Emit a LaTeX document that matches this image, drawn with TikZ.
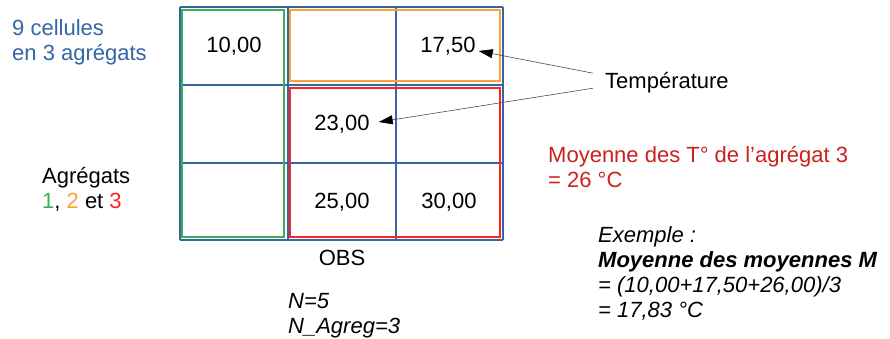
\documentclass[tikz,border=0pt]{standalone}
\usepackage{fontspec}
\setmainfont{Liberation Sans}
\usetikzlibrary{arrows.meta}
\definecolor{gridblue}{RGB}{52,101,164}
\definecolor{agggreen}{RGB}{60,175,85}
\definecolor{aggorange}{RGB}{255,160,50}
\definecolor{aggred}{RGB}{255,35,35}
\definecolor{notered}{RGB}{201,33,30}
\tikzset{
  every node/.style={font=\fontsize{22}{25}\selectfont, inner sep=0pt},
  gridline/.style={draw=gridblue, line width=1.4pt},
  aggbox/.style={line width=1.3pt},
  txt/.style={anchor=base west, align=left},
  pointer/.style={->, draw=black!70, line width=0.6pt},
}
\begin{document}
\begin{tikzpicture}[
        x=1pt, y=-1pt,
        >={Triangle[length=14pt,width=9pt,color=black]},
        ]
        \useasboundingbox (0,0) rectangle (890,338);
        % the 9 cells
        \foreach \x in {180,288,396,503} \draw[gridline] (\x,7) -- (\x,240);
        \foreach \y in {7,85,163,240} \draw[gridline] (180,\y) -- (503,\y);
        % the 3 aggregates
        \draw[aggbox, agggreen] (182,10) rectangle (284,237);
        \draw[aggbox, aggorange] (290,10) rectangle (500,81);
        \draw[aggbox, aggred] (290,88) rectangle (500,237);
        % temperatures
        \node (v100) at (234,46) {10,00};
        \node (v175) at (448,46) {17,50};
        \node (v230) at (342,124) {23,00};
        \node (v250) at (342,202) {25,00};
        \node (v300) at (449,202) {30,00};
        \node (obs) at (342,258) {OBS};
        % labels (base = last line)
        \node[txt, gridblue] (cells) at (12,60) {9 cellules\\en 3 agrégats};
        \node[txt] (aggs) at (42,208) {Agrégats\\{\color{agggreen}1}, {\color{aggorange}2} et {\color{aggred}3}};
        \node[txt] (temp) at (605,88) {Température};
        \node[txt, notered] (mean3) at (548,187) {Moyenne des T° de l’agrégat 3\\= 26 °C};
        \node[txt, font=\fontsize{22}{25}\selectfont\itshape] (counts) at (288,333) {N=5\\N\_Agreg=3};
        \node[txt, font=\fontsize{22}{25}\selectfont\itshape] (example) at (598,317)
            {Exemple :\\\textbf{Moyenne des moyennes M}\\= (10,00+17,50+26,00)/3\\= 17,83 °C};
        % pointers
        \draw[pointer] ([shift={(-12,-9)}]temp.west) -- ([shift={(3,5)}]v175.east);
        \draw[pointer] ([shift={(-12,6)}]temp.west) -- ([shift={(9,-2)}]v230.east);
\end{tikzpicture}
\end{document}
